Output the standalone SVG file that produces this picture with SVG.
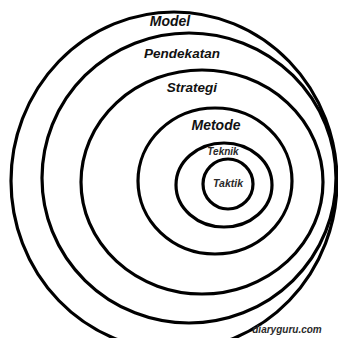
<svg xmlns="http://www.w3.org/2000/svg" width="338" height="338" viewBox="0 0 338 338">
<style>
.ring{fill:none;stroke:#000;stroke-width:3.2}
.lbl{font-family:"Liberation Sans",Arial,sans-serif;font-weight:bold;font-style:italic;text-anchor:middle;fill:#111}
.sm{fill:#2a2a2a}
</style>
<rect width="338" height="338" fill="#fff"/>
<g id="model"><ellipse class="ring" cx="174" cy="181" rx="163" ry="169"/><text class="lbl" x="170" y="26" font-size="14">Model</text></g>
<g id="pendekatan"><ellipse class="ring" cx="189" cy="178" rx="147" ry="145"/><text class="lbl" x="182" y="58" font-size="13.5">Pendekatan</text></g>
<g id="strategi"><ellipse class="ring" cx="202" cy="182" rx="121" ry="112"/><text class="lbl" x="192" y="92" font-size="13.5">Strategi</text></g>
<g id="metode"><ellipse class="ring" cx="215" cy="181" rx="77" ry="73"/><text class="lbl" x="216" y="130" font-size="14">Metode</text></g>
<g id="teknik"><ellipse class="ring" cx="224" cy="185" rx="48" ry="42"/><text class="lbl sm" x="223" y="155" font-size="10">Teknik</text></g>
<g id="taktik"><ellipse class="ring" cx="228" cy="184" rx="25" ry="25"/><text class="lbl sm" x="228" y="187" font-size="10.5">Taktik</text></g>
<g id="connectors"></g>
<text class="lbl sm" x="287" y="333" font-size="10">diaryguru.com</text>
</svg>
